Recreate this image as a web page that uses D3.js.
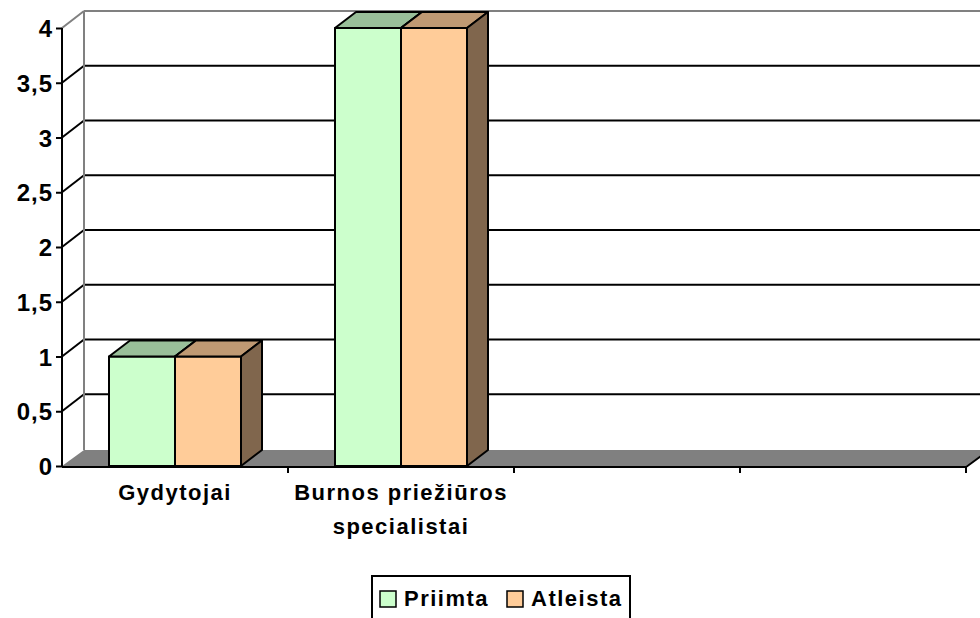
<!DOCTYPE html>
<html>
<head>
<meta charset="utf-8">
<script src="https://cdn.jsdelivr.net/npm/d3@7"></script>
<style>
body { margin: 0; background: #fff; }
svg text { font-family: "Liberation Sans", Arial, sans-serif; font-weight: bold; font-size: 22px; fill: #000; letter-spacing: 1.5px; }
svg .yaxis text { font-size: 24px; letter-spacing: 1px; }
</style>
</head>
<body>
<svg id="chart" width="980" height="618"></svg>
<script>

/// Data
var categories = ["Gydytojai", "Burnos priežiūros\nspecialistai", "", ""];
var series = ["Priimta", "Atleista"];
var priimta = [1, 4, null, null];
var atleista = [1, 4, null, null];
var yTicks = [0, 0.5, 1, 1.5, 2, 2.5, 3, 3.5, 4];

var colors = {
  Priimta:  {front: "#CCFFCC", top: "#99BF99", side: "#668066"},
  Atleista: {front: "#FFCC99", top: "#BF9973", side: "#80664D"}
};

var svg = d3.select("#chart");

var plotLeft = 62, plotRight = 966, plotTop = 28, plotBottom = 466;
var wallDx = 22, wallDy = -17;   /// depth of back wall
var barDx = 21, barDy = -16;     /// depth of the bars

var x0 = d3.scaleBand().domain(d3.range(categories.length)).range([plotLeft, plotRight]);
var barW = 66;
var po = (x0.bandwidth() / barW - series.length) / 2;
var x1 = d3.scaleBand().domain(series).range([0, x0.bandwidth()]).paddingInner(0).paddingOuter(po);

var y = d3.scaleLinear().domain([0, 4]).range([plotBottom, plotTop]);
var fmt = d3.formatLocale({decimal: ",", thousands: " ", grouping: [3], currency: ["", ""]}).format("~g");

var g = svg.append("g");

/// back wall gridlines
g.selectAll(".grid").data(yTicks.filter(function(d){ return d > 0; })).enter().append("line")
    .attr("x1", plotLeft + wallDx).attr("x2", 1000)
    .attr("y1", function(d){ return y(d) + wallDy; })
    .attr("y2", function(d){ return y(d) + wallDy; })
    .attr("stroke", function(d){ return d === 4 ? "#808080" : "#000"; })
    .attr("stroke-width", 2);

/// side wall diagonals
g.selectAll(".diag").data(yTicks.filter(function(d){ return d > 0; })).enter().append("line")
    .attr("x1", plotLeft).attr("x2", plotLeft + wallDx)
    .attr("y1", function(d){ return y(d); })
    .attr("y2", function(d){ return y(d) + wallDy; })
    .attr("stroke", function(d){ return d === 4 ? "#808080" : "#000"; })
    .attr("stroke-width", 2);

/// back wall left edge
g.append("line")
    .attr("x1", plotLeft + wallDx).attr("x2", plotLeft + wallDx)
    .attr("y1", y(4) + wallDy).attr("y2", y(0) + wallDy + 1)
    .attr("stroke", "#808080").attr("stroke-width", 2);

/// floor
var fy = y(0), fdy = -16;
g.append("path")
    .attr("d", "M" + plotLeft + "," + fy + "L" + plotRight + "," + fy + "L" + (plotRight + wallDx) + "," + (fy + fdy) +
               "L" + (plotLeft + wallDx) + "," + (fy + fdy) + "Z")
    .attr("fill", "#808080");
g.append("path")
    .attr("d", "M" + plotLeft + "," + (fy + 1) + "L" + plotRight + "," + (fy + 1) + "L" + (plotRight + wallDx) + "," + (fy + fdy + 1))
    .attr("fill", "none").attr("stroke", "#000").attr("stroke-width", 2);

/// bars
var values = {Priimta: priimta, Atleista: atleista};
categories.forEach(function(c, i) {
  series.forEach(function(s) {
    var v = values[s][i];
    if (v == null) return;
    var bx = x0(i) + x1(s), bw = x1.bandwidth(), by = y(v), b0 = y(0);
    var col = colors[s];
    var bg = g.append("g").attr("stroke", "#000").attr("stroke-width", 2).attr("stroke-linejoin", "round");
    bg.append("rect").attr("x", bx).attr("y", by).attr("width", bw).attr("height", b0 - by).attr("fill", col.front);
    bg.append("path").attr("fill", col.top)
      .attr("d", "M" + bx + "," + by + "L" + (bx + barDx) + "," + (by + barDy) + "L" + (bx + bw + barDx) + "," + (by + barDy) +
                 "L" + (bx + bw) + "," + by + "Z");
    bg.append("path").attr("fill", col.side)
      .attr("d", "M" + (bx + bw) + "," + by + "L" + (bx + bw + barDx) + "," + (by + barDy) + "L" + (bx + bw + barDx) + "," + (b0 + barDy) +
                 "L" + (bx + bw) + "," + b0 + "Z");
  });
});

/// y axis
var yAxis = d3.axisLeft(y).tickValues(yTicks).tickSize(6).tickPadding(5).tickFormat(fmt);
var ya = svg.append("g").attr("class", "yaxis").attr("transform", "translate(" + plotLeft + ",0)").call(yAxis);
ya.select(".domain").attr("stroke", "#000").attr("stroke-width", 2).attr("d", "M0," + plotTop + "V" + (plotBottom + 1));
ya.selectAll(".tick line").attr("stroke", "#000").attr("stroke-width", 2);
ya.selectAll(".tick text").attr("dy", "0.36em").attr("x", -9);
ya.attr("font-size", null).attr("font-family", null);

/// x axis ticks at the band boundaries
svg.append("g").selectAll("line").data(d3.range(1, categories.length + 1)).enter().append("line")
    .attr("x1", function(d){ return plotLeft + d * x0.step(); })
    .attr("x2", function(d){ return plotLeft + d * x0.step(); })
    .attr("y1", plotBottom + 1).attr("y2", plotBottom + 7)
    .attr("stroke", "#000").attr("stroke-width", 2);

/// category labels
var xl = svg.append("g").selectAll("text").data(categories).enter().append("text")
    .attr("text-anchor", "middle")
    .attr("x", function(d, i){ return x0(i) + x0.bandwidth() / 2; })
    .attr("y", 500);
xl.selectAll("tspan").data(function(d){ return d ? d.split("\n") : []; }).enter().append("tspan")
    .attr("x", function(){ return this.parentNode.getAttribute("x"); })
    .attr("dy", function(d, j){ return j ? 34 : 0; })
    .text(function(d){ return d; });

/// legend
var lg = svg.append("g");
lg.append("rect").attr("x", 372).attr("y", 576).attr("width", 258).attr("height", 60)
    .attr("fill", "#fff").attr("stroke", "#000").attr("stroke-width", 2);
var legX = [380, 507];
series.forEach(function(s, i) {
  lg.append("rect").attr("x", legX[i]).attr("y", 591).attr("width", 16).attr("height", 16)
    .attr("fill", colors[s].front).attr("stroke", "#000").attr("stroke-width", 1.5);
  lg.append("text").attr("x", legX[i] + 24).attr("y", 606).text(s);
});

</script>
</body>
</html>
